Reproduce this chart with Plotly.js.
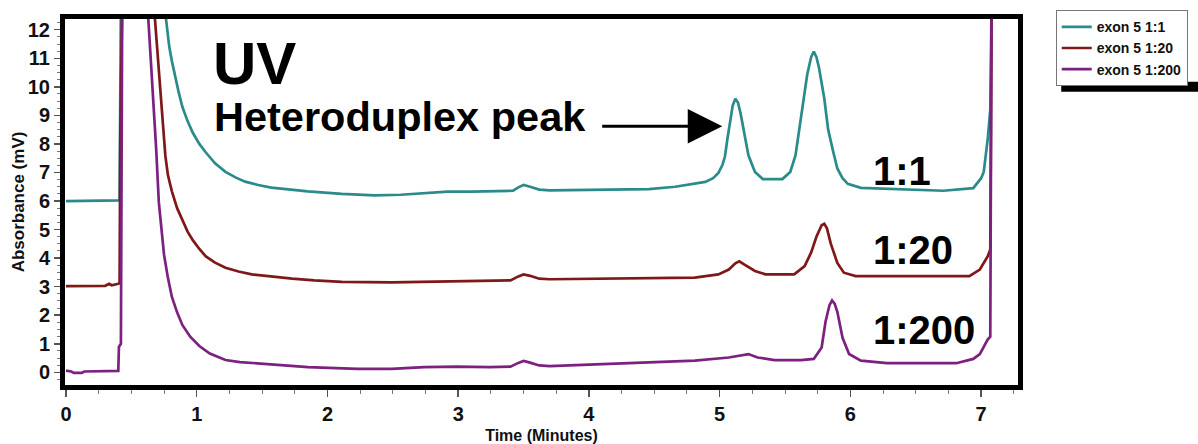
<!DOCTYPE html>
<html>
<head>
<meta charset="utf-8">
<script src="https://cdn.plot.ly/plotly-3.0.1.min.js"></script>
<style>html,body{margin:0;padding:0;background:#fff;}#chart{width:1198px;height:444px;}</style>
</head>
<body>
<div id="chart"></div>
<script>
// ---- Data ----
const seriesNames = ["exon 5 1:1", "exon 5 1:20", "exon 5 1:200"];

const time_1_1 = [0, 0.40, 0.41, 0.42, 0.76, 0.765, 0.775, 0.79, 0.81, 0.83, 0.86, 0.89, 0.93, 0.97, 1.02, 1.07, 1.14, 1.22, 1.30, 1.37, 1.47, 1.57, 1.70, 1.85, 2.11, 2.36, 2.56, 2.74, 2.92, 3.10, 3.30, 3.42, 3.46, 3.50, 3.55, 3.62, 3.70, 4.00, 4.46, 4.66, 4.80, 4.89, 4.95, 4.99, 5.02, 5.04, 5.06, 5.08, 5.10, 5.12, 5.14, 5.16, 5.19, 5.22, 5.27, 5.33, 5.48, 5.54, 5.58, 5.61, 5.64, 5.67, 5.70, 5.72, 5.74, 5.76, 5.80, 5.83, 5.87, 5.90, 5.94, 5.98, 6.08, 6.46, 6.71, 6.94, 7.00, 7.02, 7.05, 7.07, 7.08];
const abs_1_1 = [6.0, 6.0, 6.02, 13, 13, 12.38, 11.9, 11.4, 10.9, 10.44, 9.85, 9.30, 8.80, 8.39, 8.00, 7.70, 7.32, 7.02, 6.82, 6.68, 6.56, 6.47, 6.40, 6.34, 6.25, 6.20, 6.22, 6.28, 6.33, 6.33, 6.34, 6.36, 6.48, 6.56, 6.50, 6.40, 6.37, 6.38, 6.42, 6.50, 6.60, 6.67, 6.80, 6.98, 7.25, 7.55, 8.20, 8.85, 9.35, 9.58, 9.45, 9.07, 8.27, 7.60, 7.02, 6.77, 6.77, 7.02, 7.60, 8.50, 9.50, 10.44, 11.05, 11.23, 11.05, 10.67, 9.60, 8.50, 7.70, 7.14, 6.80, 6.60, 6.46, 6.39, 6.36, 6.45, 6.80, 7.02, 8.16, 9.19, 13];

const time_1_20 = [0, 0.20, 0.30, 0.33, 0.35, 0.40, 0.41, 0.415, 0.43, 0.67, 0.68, 0.70, 0.73, 0.76, 0.78, 0.81, 0.85, 0.89, 0.93, 0.97, 1.02, 1.07, 1.14, 1.22, 1.32, 1.42, 1.57, 1.73, 1.90, 2.11, 2.49, 2.74, 2.99, 3.40, 3.46, 3.50, 3.55, 3.62, 3.70, 4.26, 4.81, 4.99, 5.07, 5.12, 5.15, 5.19, 5.27, 5.35, 5.57, 5.65, 5.70, 5.74, 5.78, 5.80, 5.82, 5.85, 5.90, 5.95, 6.04, 6.91, 6.99, 7.05, 7.07, 7.08];
const abs_1_20 = [3.02, 3.02, 3.03, 3.10, 3.05, 3.10, 3.12, 8.0, 13, 13, 12.38, 11.0, 9.30, 7.59, 6.90, 6.34, 5.75, 5.31, 4.93, 4.63, 4.32, 4.06, 3.84, 3.66, 3.53, 3.43, 3.35, 3.28, 3.22, 3.17, 3.15, 3.17, 3.20, 3.22, 3.36, 3.43, 3.38, 3.28, 3.26, 3.28, 3.32, 3.43, 3.60, 3.82, 3.89, 3.77, 3.55, 3.43, 3.43, 3.72, 4.20, 4.75, 5.15, 5.20, 5.05, 4.51, 3.83, 3.49, 3.37, 3.37, 3.60, 4.06, 4.30, 13];

const time_1_200 = [0, 0.04, 0.06, 0.12, 0.14, 0.40, 0.405, 0.42, 0.43, 0.62, 0.63, 0.66, 0.69, 0.71, 0.73, 0.75, 0.78, 0.81, 0.85, 0.89, 0.95, 1.02, 1.10, 1.22, 1.33, 1.47, 1.65, 1.85, 2.23, 2.49, 2.74, 2.99, 3.24, 3.40, 3.46, 3.50, 3.55, 3.62, 3.70, 4.21, 4.81, 5.07, 5.22, 5.29, 5.42, 5.62, 5.72, 5.78, 5.81, 5.84, 5.86, 5.88, 5.90, 5.94, 5.99, 6.08, 6.28, 6.81, 6.94, 6.99, 7.05, 7.07, 7.08];
const abs_1_200 = [0.06, 0.03, -0.02, -0.02, 0.03, 0.05, 0.9, 1.0, 13, 13, 12.35, 10.26, 7.81, 5.96, 4.95, 4.12, 3.30, 2.64, 2.10, 1.66, 1.25, 0.92, 0.66, 0.43, 0.36, 0.31, 0.24, 0.18, 0.12, 0.12, 0.18, 0.20, 0.18, 0.20, 0.33, 0.40, 0.34, 0.24, 0.22, 0.30, 0.41, 0.52, 0.64, 0.52, 0.43, 0.43, 0.47, 0.87, 1.78, 2.35, 2.52, 2.40, 2.12, 1.21, 0.64, 0.41, 0.32, 0.32, 0.47, 0.64, 1.15, 1.25, 13];

const yTickValues = [0,1,2,3,4,5,6,7,8,9,10,11,12];
const xTickValues = [0,1,2,3,4,5,6,7];

const ratioLabels = ["1:1", "1:20", "1:200"];
const ratioLabelX = [6.16, 6.16, 6.16];
const ratioLabelY = [7.05, 4.27, 1.50];

// ---- Styling ----
const colors = ["#2b8b8b", "#7f1818", "#7c2180"];
const boldSans = "Liberation Sans, Arial, Helvetica, sans-serif";

const times = [time_1_1, time_1_20, time_1_200];
const values = [abs_1_1, abs_1_20, abs_1_200];

const traces = seriesNames.map((name, i) => ({
  type: "scatter",
  mode: "lines",
  name: name,
  x: times[i],
  y: values[i],
  line: {color: colors[i], width: 2.7},
  hoverinfo: "skip"
}));

const annotations = [
  {xref: "x", yref: "y", x: 1.11, y: 10.82, text: "UV", showarrow: false,
   xanchor: "left", yanchor: "middle",
   font: {family: boldSans, size: 60, color: "#000", weight: "bold"}},
  {xref: "x", yref: "y", x: 1.12, y: 8.95, text: "Heteroduplex peak", showarrow: false,
   xanchor: "left", yanchor: "middle",
   font: {family: boldSans, size: 41.5, color: "#000", weight: "bold"}},
  {xref: "x", yref: "y", x: 5.02, y: 8.62, axref: "x", ayref: "y", ax: 4.09, ay: 8.62,
   text: "", showarrow: true, arrowhead: 2, arrowsize: 2.3, arrowwidth: 3, arrowcolor: "#000",
   standoff: 0}
].concat(ratioLabels.map((t, i) => ({
  xref: "x", yref: "y", x: ratioLabelX[i], y: ratioLabelY[i], text: t, showarrow: false,
  xanchor: "left", yanchor: "middle",
  font: {family: boldSans, size: 40, color: "#000", weight: "bold"}
})));

const layout = {
  width: 1198, height: 444,
  margin: {l: 65, r: 173, t: 10, b: 59},
  paper_bgcolor: "#ffffff",
  plot_bgcolor: "#ffffff",
  showlegend: true,
  legend: {
    x: 1.0396, y: 1.024, xanchor: "left", yanchor: "top",
    bgcolor: "#ffffff", bordercolor: "#777", borderwidth: 1,
    font: {family: boldSans, size: 14, color: "#111", weight: "bold"}
  },
  xaxis: {
    range: [-0.0076, 7.282],
    tickvals: xTickValues,
    ticktext: xTickValues.map(String),
    showgrid: false, zeroline: false,
    showline: true, linecolor: "#000", linewidth: 5, mirror: true,
    ticks: "outside", ticklen: 7, tickwidth: 1.5, tickcolor: "#555",
    minor: {dtick: 0.25, ticks: "outside", ticklen: 4, tickwidth: 1, tickcolor: "#777", showgrid: false},
    tickfont: {family: boldSans, size: 20, color: "#111", weight: "bold"},
    title: {text: "Time (Minutes)", font: {family: boldSans, size: 16, color: "#111", weight: "bold"}, standoff: 8}
  },
  yaxis: {
    range: [-0.444, 12.376],
    tickvals: yTickValues,
    ticktext: yTickValues.map(String),
    showgrid: false, zeroline: false,
    showline: true, linecolor: "#000", linewidth: 5, mirror: true,
    ticks: "outside", ticklen: 6, tickwidth: 1.5, tickcolor: "#555",
    minor: {dtick: 0.25, ticks: "outside", ticklen: 3, tickwidth: 1, tickcolor: "#777", showgrid: false},
    tickfont: {family: boldSans, size: 20, color: "#111", weight: "bold"},
    title: {text: "Absorbance (mV)", font: {family: boldSans, size: 17, color: "#111", weight: "bold"}, standoff: 0}
  },
  annotations: annotations
};

Plotly.newPlot("chart", traces, layout, {displayModeBar: false, staticPlot: true}).then(gd => {
  // drop shadow under the legend box, placed from the drawn legend's size
  const bg = gd.querySelector(".legend .bg");
  if (!bg) return;
  const box = bg.getBoundingClientRect();
  const host = gd.getBoundingClientRect();
  const fs = gd._fullLayout._size;
  const toPx = px => (px - fs.l) / fs.w;
  const toPy = py => (fs.t + fs.h - py) / fs.h;
  const left = box.left - host.left, bottom = box.bottom - host.top;
  return Plotly.relayout(gd, {shapes: [{
    type: "rect", xref: "paper", yref: "paper", layer: "above",
    x0: toPx(left + 5), x1: toPx(1210),
    y0: toPy(bottom + 6), y1: toPy(bottom - 4),
    fillcolor: "#000", line: {width: 0}
  }]});
});
</script>
</body>
</html>
